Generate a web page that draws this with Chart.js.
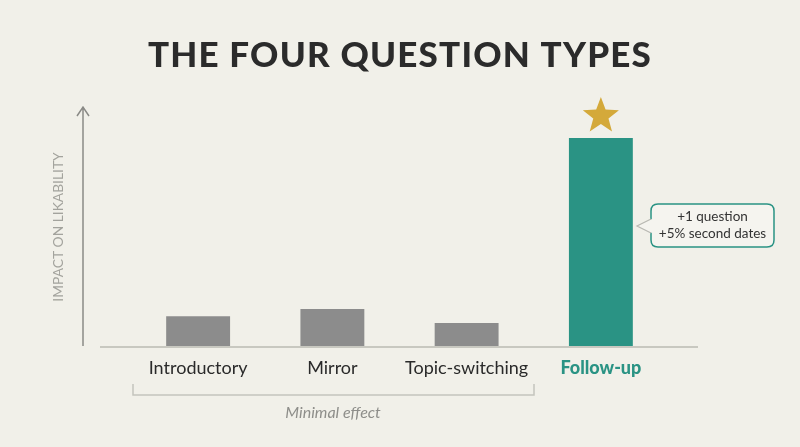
<!DOCTYPE html>
<html>
<head>
<meta charset="utf-8">
<script src="https://cdn.jsdelivr.net/npm/chart.js@4.4.1/dist/chart.umd.min.js"></script>
<style>
  html, body { margin: 0; padding: 0; background: #F1F0E9; }
  #wrap { position: relative; width: 800px; height: 447px; }
</style>
</head>
<body>
<div id="wrap"><canvas id="c" width="800" height="447"></canvas></div>
<script>
const categories = ['Introductory', 'Mirror', 'Topic-switching', 'Follow-up'];
const impactValues = [12.5, 15.5, 9.6, 87];
const titleText = 'THE FOUR QUESTION TYPES';
const yAxisTitle = 'IMPACT ON LIKABILITY';
const calloutLines = ['+1 question', '+5% second dates'];
const bracketLabel = 'Minimal effect';

const GRAY = '#8C8C8C';
const TEAL = '#2A9384';

function starPath(ctx, cx, cy, R, r) {
  ctx.beginPath();
  for (let i = 0; i < 10; i++) {
    const rad = i % 2 === 0 ? R : r;
    const a = -Math.PI / 2 + i * Math.PI / 5;
    const x = cx + rad * Math.cos(a), y = cy + rad * Math.sin(a);
    if (i === 0) ctx.moveTo(x, y); else ctx.lineTo(x, y);
  }
  ctx.closePath();
}

function roundRect(ctx, x, y, w, h, r) {
  ctx.beginPath();
  ctx.moveTo(x + r, y);
  ctx.lineTo(x + w - r, y);
  ctx.quadraticCurveTo(x + w, y, x + w, y + r);
  ctx.lineTo(x + w, y + h - r);
  ctx.quadraticCurveTo(x + w, y + h, x + w - r, y + h);
  ctx.lineTo(x + r, y + h);
  ctx.quadraticCurveTo(x, y + h, x, y + h - r);
  ctx.lineTo(x, y + r);
  ctx.quadraticCurveTo(x, y, x + r, y);
  ctx.closePath();
}

const decor = {
  id: 'decor',
  beforeDraw(chart) {
    const ctx = chart.ctx;
    ctx.save();
    ctx.fillStyle = '#F1F0E9';
    ctx.fillRect(0, 0, chart.width, chart.height);
    ctx.restore();
  },
  afterDatasetsDraw(chart) {
    const ctx = chart.ctx;
    const xs = chart.scales.x, ys = chart.scales.y;
    const area = chart.chartArea;
    const base = ys.getPixelForValue(0);
    ctx.save();

    // title
    ctx.save();
    ctx.fillStyle = '#2B2B2B';
    ctx.font = '900 35px Lato';
    ctx.letterSpacing = '1.2px';
    ctx.textAlign = 'center';
    ctx.textBaseline = 'middle';
    ctx.fillText(titleText, 400, 56);
    ctx.restore();

    // baseline
    ctx.strokeStyle = '#C8C8C0';
    ctx.lineWidth = 2;
    ctx.beginPath();
    ctx.moveTo(100, base + 1);
    ctx.lineTo(698, base + 1);
    ctx.stroke();

    // vertical axis with arrow
    ctx.strokeStyle = '#8A8A86';
    ctx.lineWidth = 1.5;
    ctx.beginPath();
    ctx.moveTo(83, base);
    ctx.lineTo(83, area.top);
    ctx.moveTo(77, area.top + 9);
    ctx.lineTo(83, area.top);
    ctx.lineTo(89, area.top + 9);
    ctx.stroke();

    // y axis title
    ctx.save();
    ctx.translate(59, 227);
    ctx.rotate(-Math.PI / 2);
    ctx.fillStyle = '#A3A39D';
    ctx.font = '13.8px Lato';
    ctx.textAlign = 'center';
    ctx.textBaseline = 'middle';
    ctx.fillText(yAxisTitle, 0, 0);
    ctx.restore();

    // category labels
    categories.forEach((c, i) => {
      const x = xs.getPixelForValue(i);
      const last = i === categories.length - 1;
      ctx.fillStyle = last ? TEAL : '#2A2A2A';
      ctx.font = (last ? '900 ' : '') + '18px Lato';
      ctx.textAlign = 'center';
      ctx.textBaseline = 'middle';
      ctx.fillText(c, x, 368);
    });

    // bracket under the first three
    ctx.strokeStyle = '#C4C4BD';
    ctx.lineWidth = 1.5;
    ctx.beginPath();
    ctx.moveTo(133, 384);
    ctx.lineTo(133, 395);
    ctx.lineTo(534, 395);
    ctx.lineTo(534, 384);
    ctx.stroke();
    ctx.fillStyle = '#8E8E8A';
    ctx.font = 'italic 16px Lato';
    ctx.fillText(bracketLabel, 333, 413);

    // star above the follow-up bar
    const fx = xs.getPixelForValue(3);
    const ftop = ys.getPixelForValue(impactValues[3]);
    ctx.fillStyle = '#D4A93A';
    starPath(ctx, fx, ftop - 22, 19, 8);
    ctx.fill();

    // callout
    const bx = 651, by = 204, bw = 123, bh = 43;
    ctx.fillStyle = '#F5F4EF';
    roundRect(ctx, bx, by, bw, bh, 7);
    ctx.fill();
    ctx.strokeStyle = TEAL;
    ctx.lineWidth = 1.5;
    ctx.stroke();
    // pointer
    ctx.fillStyle = '#F5F4EF';
    ctx.beginPath();
    ctx.moveTo(bx + 1, 219);
    ctx.lineTo(637, 226);
    ctx.lineTo(bx + 1, 233);
    ctx.closePath();
    ctx.fill();
    ctx.strokeStyle = '#B8B8B2';
    ctx.lineWidth = 1.2;
    ctx.beginPath();
    ctx.moveTo(bx, 219);
    ctx.lineTo(637, 226);
    ctx.lineTo(bx, 233);
    ctx.stroke();
    ctx.fillStyle = '#333333';
    ctx.font = '13.5px Lato';
    ctx.textAlign = 'center';
    ctx.fillText(calloutLines[0], bx + bw / 2, 217);
    ctx.fillText(calloutLines[1], bx + bw / 2, 234);

    ctx.restore();
  }
};

new Chart(document.getElementById('c'), {
  type: 'bar',
  data: {
    labels: categories,
    datasets: [{
      data: impactValues,
      backgroundColor: impactValues.map((v, i) => i === impactValues.length - 1 ? TEAL : GRAY),
      borderWidth: 0,
      barPercentage: 0.476,
      categoryPercentage: 1.0
    }]
  },
  options: {
    responsive: false,
    animation: false,
    devicePixelRatio: 1,
    layout: { padding: { left: 131, right: 132, top: 107, bottom: 101 } },
    plugins: { legend: { display: false }, tooltip: { enabled: false }, title: { display: false } },
    scales: {
      x: { display: false },
      y: { display: false, min: 0, max: 100 }
    }
  },
  plugins: [decor]
});
</script>
</body>
</html>
